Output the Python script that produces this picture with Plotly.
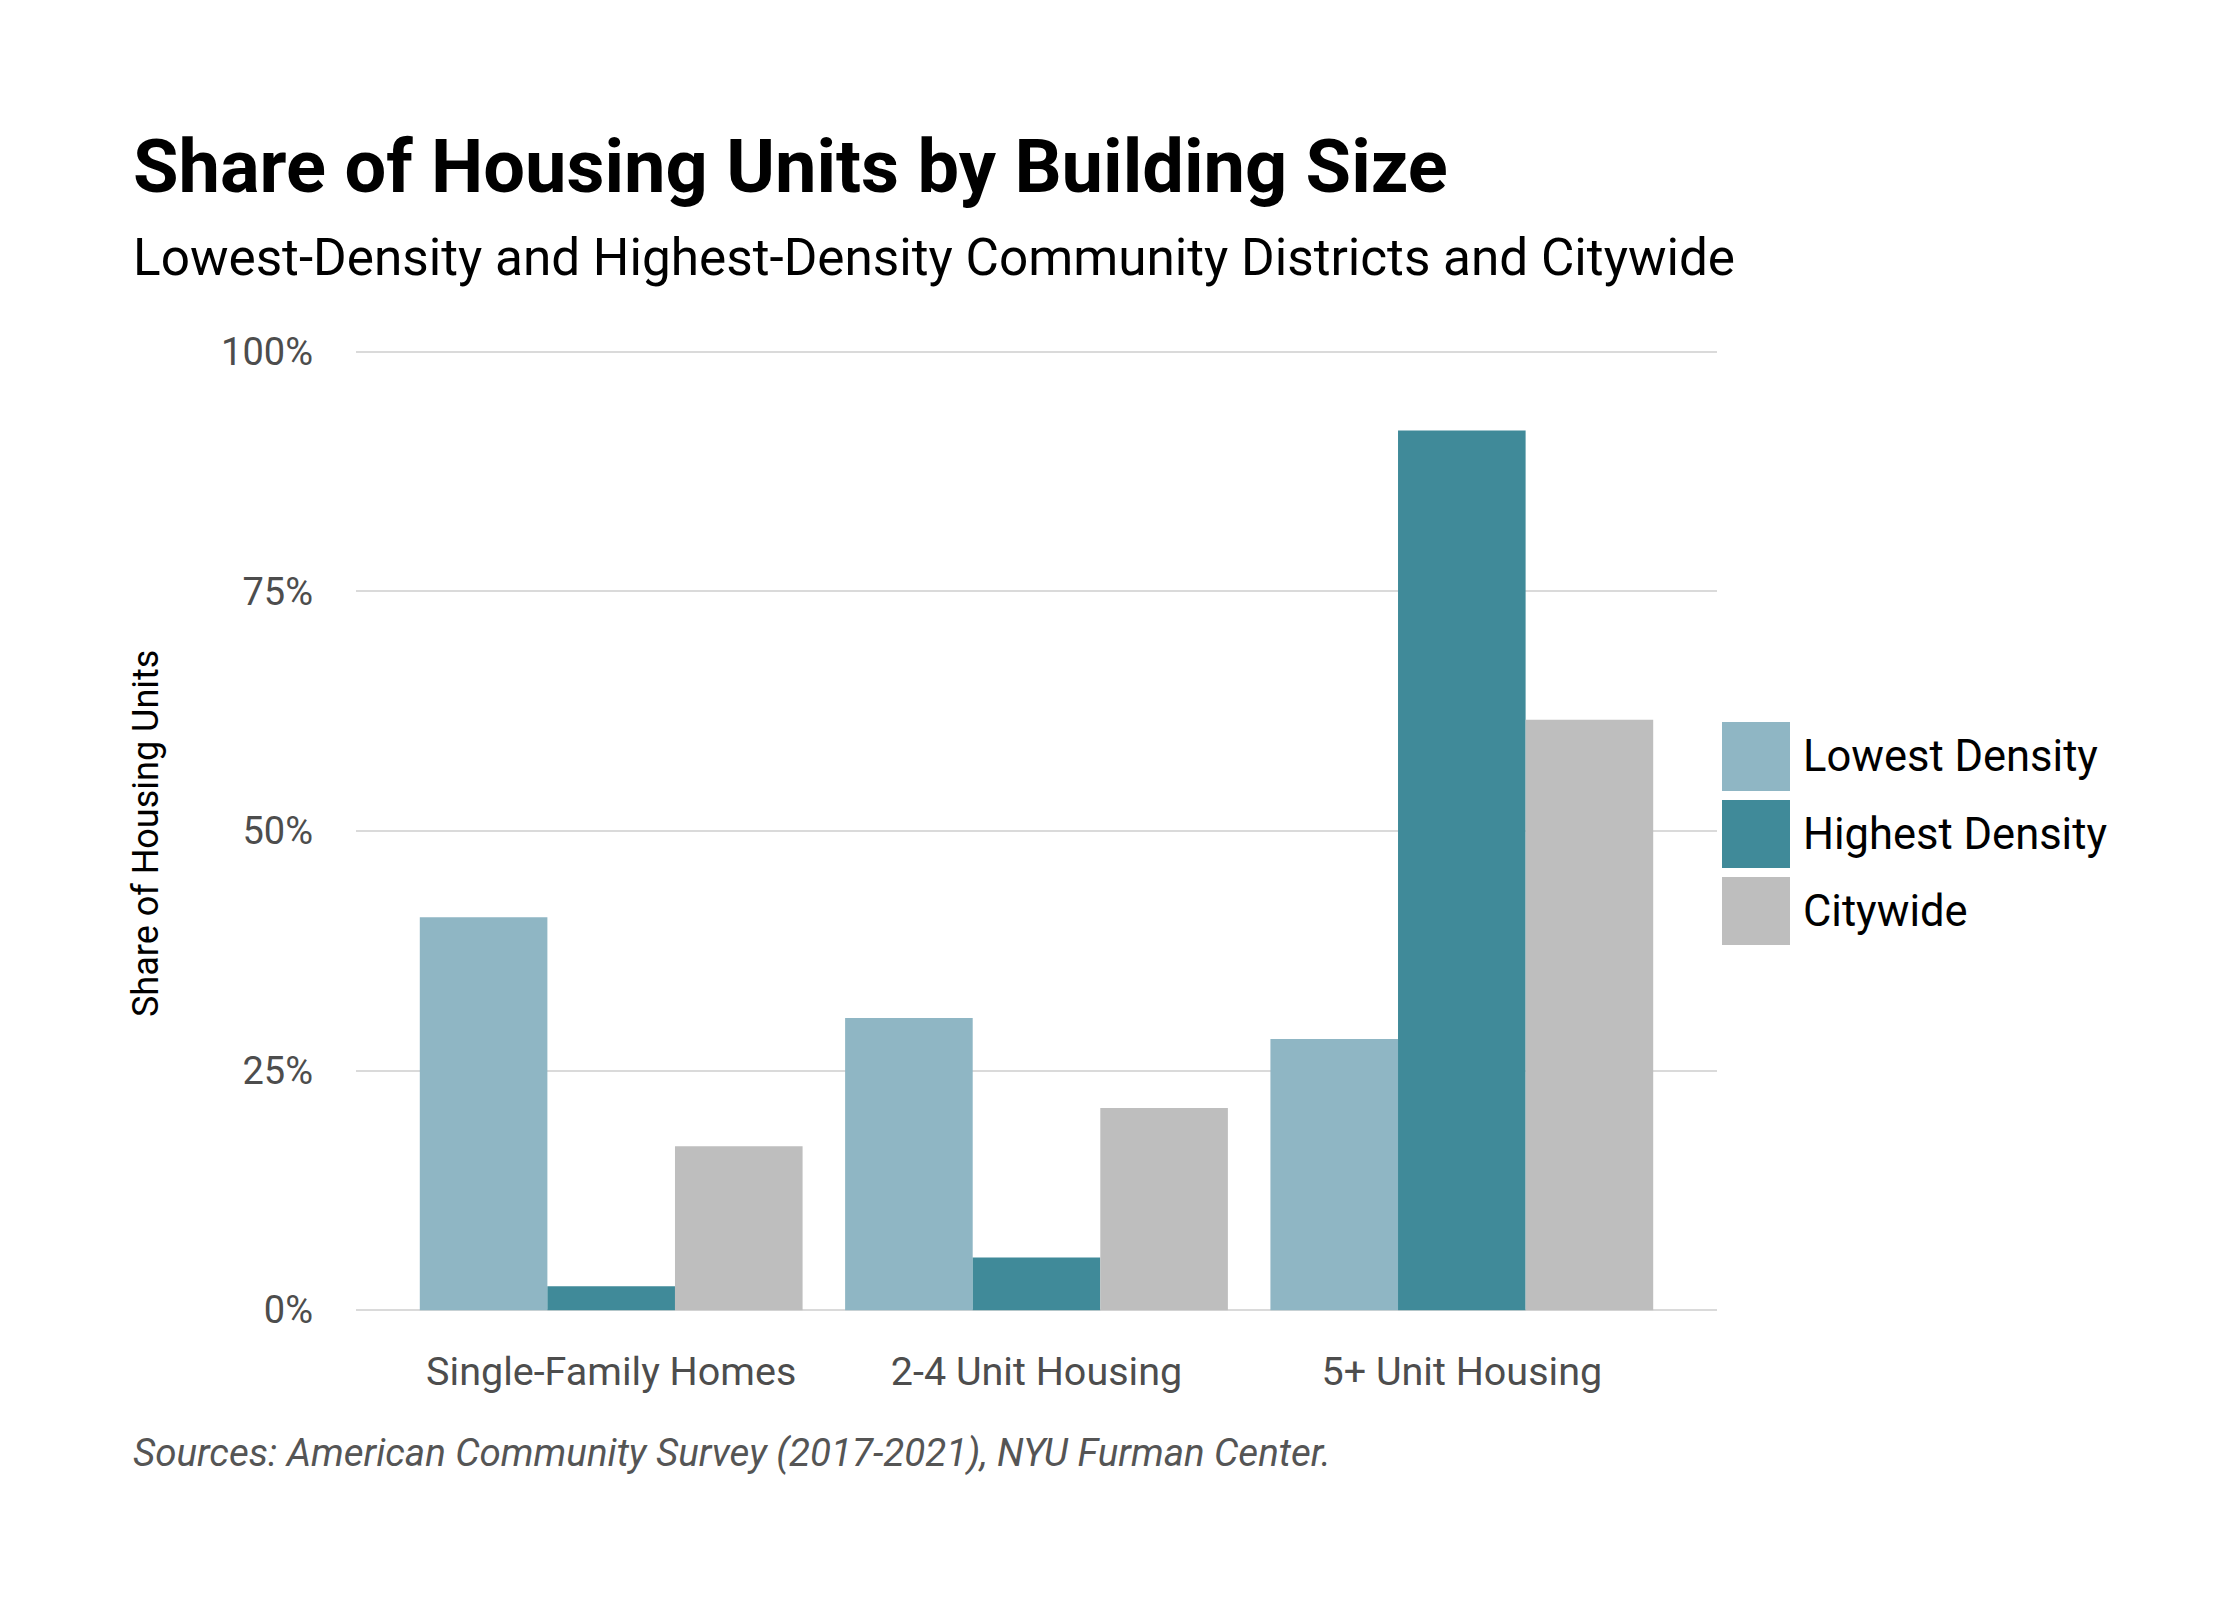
import plotly.graph_objects as go

# ---------------------------------------------------------------------------
# Data (% of housing units)
# ---------------------------------------------------------------------------
categories = ['Single-Family Homes', '2-4 Unit Housing', '5+ Unit Housing']
series_names = ['Lowest Density', 'Highest Density', 'Citywide']
lowest_density = [41.0, 30.5, 28.3]
highest_density = [2.5, 5.5, 91.8]
citywide = [17.1, 21.1, 61.6]
series_values = [lowest_density, highest_density, citywide]
series_colors = ['#8fb6c4', '#408a99', '#bebebe']
y_tickvals = [0, 25, 50, 75, 100]
y_ticktext = ['0%', '25%', '50%', '75%', '100%']

W, H = 2240, 1600
L, R, T, B = 348, 1709, 340, 1306   # plot area in pixels


def px_x(px):
    return (px - L) / (R - L)


def px_y(py):
    return (B - py) / (B - T)


FONT = 'Roboto, Inter, "Noto Sans", sans-serif'

fig = go.Figure()
for name, vals, color in zip(series_names, series_values, series_colors):
    fig.add_trace(go.Bar(
        x=categories, y=vals, name=name,
        marker=dict(color=color, line=dict(width=0)),
        hovertemplate='%{x}<br>' + name + ': %{y:.1f}%<extra></extra>',
    ))

# -- Legend drawn by hand so the swatches can be large ----------------------
key_rows = [(714, 783), (792, 860), (869, 937)]
for name, color, (y0, y1) in zip(series_names, series_colors, key_rows):
    fig.add_shape(type='rect', xref='paper', yref='paper',
                  x0=px_x(1714), x1=px_x(1782), y0=px_y(y1), y1=px_y(y0),
                  fillcolor=color, line=dict(width=0))
    fig.add_annotation(xref='paper', yref='paper',
                       x=px_x(1793), y=px_y((y0 + y1) / 2),
                       text=name, showarrow=False, xanchor='left', yanchor='middle',
                       font=dict(family=FONT, size=43.5, color='#000000'))

# -- Titles and notes --------------------------------------------------------
fig.add_annotation(xref='paper', yref='paper', x=px_x(123), y=px_y(159),
                   text='<b>Share of Housing Units by Building Size</b>',
                   showarrow=False, xanchor='left', yanchor='middle',
                   font=dict(family=FONT, size=74, color='#000000'))
fig.add_annotation(xref='paper', yref='paper', x=px_x(123), y=px_y(249),
                   text='Lowest-Density and Highest-Density Community Districts and Citywide',
                   showarrow=False, xanchor='left', yanchor='middle',
                   font=dict(family=FONT, size=51.3, color='#000000'))
fig.add_annotation(xref='paper', yref='paper', x=px_x(138), y=px_y(826),
                   text='Share of Housing Units', textangle=-90,
                   showarrow=False, xanchor='center', yanchor='middle',
                   font=dict(family=FONT, size=36, color='#000000'))
fig.add_annotation(xref='paper', yref='paper', x=px_x(123), y=px_y(1444),
                   text='<i>Sources: American Community Survey (2017-2021), NYU Furman Center.</i>',
                   showarrow=False, xanchor='left', yanchor='middle',
                   font=dict(family=FONT, size=38.5, color='#555555'))

fig.update_layout(
    width=W, height=H,
    margin=dict(l=L, r=W - R, t=T, b=H - B, pad=0),
    barmode='group', bargap=0.1, bargroupgap=0,
    showlegend=False,
    plot_bgcolor='white', paper_bgcolor='white',
    font=dict(family=FONT),
    xaxis=dict(
        range=[-0.6, 2.6], showgrid=False, zeroline=False, showline=False,
        ticks='', ticklabelstandoff=30,
        tickfont=dict(family=FONT, size=39.5, color='#4d4d4d'),
    ),
    yaxis=dict(
        range=[-0.4, 100.4], tickvals=y_tickvals, ticktext=y_ticktext,
        showgrid=True, gridcolor='#dadada', gridwidth=2,
        zeroline=False, showline=False, ticks='', ticklabelstandoff=42,
        tickfont=dict(family=FONT, size=38, color='#4d4d4d'),
    ),
)

fig.write_html('out.html')
